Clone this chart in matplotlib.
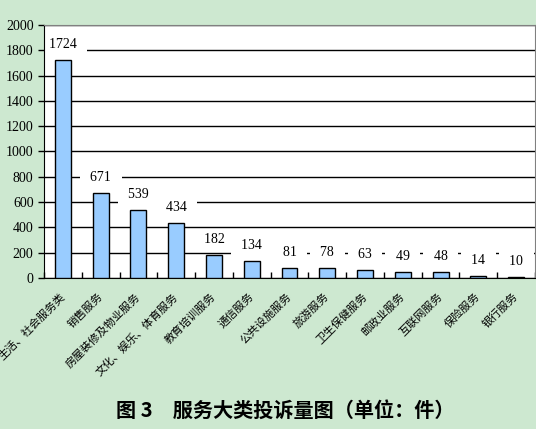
import matplotlib.pyplot as plt
import numpy as np

plt.rcParams['font.family'] = ['Noto Sans CJK SC', 'DejaVu Sans']

# Data
categories = ["生活、社会服务类", "销售服务", "房屋装修及物业服务", "文化、娱乐、体育服务",
              "教育培训服务", "通信服务", "公共设施服务", "旅游服务", "卫生保健服务",
              "邮政业服务", "互联网服务", "保险服务", "银行服务"]
counts = [1724, 671, 539, 434, 182, 134, 81, 78, 63, 49, 48, 14, 10]
y_ticks = [0, 200, 400, 600, 800, 1000, 1200, 1400, 1600, 1800, 2000]
title = "图 3　服务大类投诉量图（单位：件）"

bg = "#cde8d0"
fig = plt.figure(figsize=(5.36, 4.29), dpi=100, facecolor=bg)
ax = fig.add_axes([44 / 536, 1 - 278 / 429, 491 / 536, 253 / 429])
ax.set_facecolor("white")

x = np.arange(len(categories))
ax.bar(x, counts, width=0.42, color="#99ccff", edgecolor="black", linewidth=1, zorder=3)

ax.set_xlim(-0.5, len(categories) - 0.5)
ax.set_ylim(0, 2000)
ax.set_yticks(y_ticks)
ax.set_yticklabels([str(v) for v in y_ticks], family="Liberation Serif", fontsize=10)
ax.yaxis.grid(True, color="black", linewidth=1, zorder=1)
ax.set_axisbelow(True)

# category labels
ax.set_xticks(x)
ax.set_xticklabels(categories, rotation=45, ha="right", va="center",
                   rotation_mode="anchor", fontsize=8)
ax.tick_params(axis="x", length=0, pad=12)
ax.set_xticks(np.arange(len(categories) + 1) - 0.5, minor=True)
ax.tick_params(axis="x", which="minor", direction="in", length=4, width=1)
ax.tick_params(axis="y", direction="out", length=4, width=1)

for side in ["top", "right"]:
    ax.spines[side].set_color("#808080")
for side in ["left", "bottom"]:
    ax.spines[side].set_color("black")

# value labels with white boxes over the gridlines (kept under the bars)
for xi, v in zip(x, counts):
    ann = ax.annotate("  " + str(v) + "  ", (xi, v), xytext=(0, 11), textcoords="offset points",
                      ha="center", va="center", family="Liberation Serif", fontsize=10,
                      bbox=dict(boxstyle="square,pad=0.25", facecolor="white", edgecolor="none"),
                      zorder=2)
    ann.set_clip_path(ax.patch)

fig.text(0.532, 1 - 410 / 429, title, ha="center", va="center",
         fontsize=14.5, fontweight="bold")

fig.savefig("out.png", dpi=100, facecolor=bg)
